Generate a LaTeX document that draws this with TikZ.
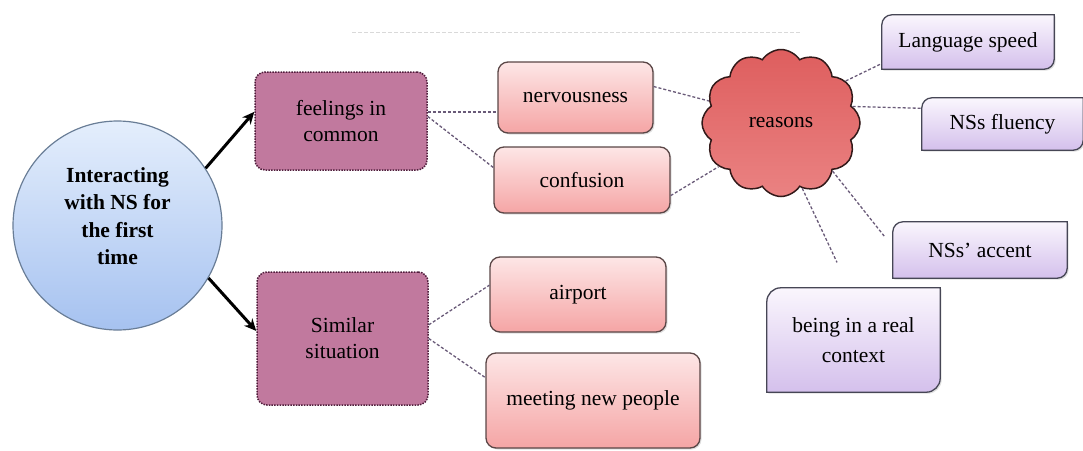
\documentclass[tikz,border=0pt]{standalone}
\usepackage{fontspec}
\setmainfont{Liberation Serif}
\usetikzlibrary{shapes.symbols,arrows.meta,shadows,backgrounds}
\definecolor{mauve}{RGB}{193,121,158}
\definecolor{mauveline}{RGB}{80,30,60}
\definecolor{pinktop}{RGB}{253,230,230}
\definecolor{pinkbot}{RGB}{245,165,165}
\definecolor{pinkline}{RGB}{90,70,70}
\definecolor{cloudfill}{RGB}{222,94,94}
\definecolor{cloudlight}{RGB}{234,130,130}
\definecolor{cloudline}{RGB}{50,25,25}
\definecolor{lavtop}{RGB}{250,246,253}
\definecolor{lavbot}{RGB}{212,192,236}
\definecolor{lavline}{RGB}{70,70,85}
\definecolor{bluetop}{RGB}{228,238,252}
\definecolor{bluebot}{RGB}{166,194,240}
\definecolor{blueline}{RGB}{105,125,150}
\definecolor{connc}{RGB}{105,90,120}
\begin{document}
\begin{tikzpicture}[x=1pt,y=-1pt,
  txt/.style={font=\fontsize{21.5}{26}\selectfont, align=center, inner sep=0pt, text=black},
  mauvebox/.style={txt, draw=mauveline, line width=1.5pt, dash pattern=on 1.5pt off 1.2pt, fill=mauve, rounded corners=10pt},
  pinkbox/.style={txt, draw=pinkline, line width=1.3pt, top color=pinktop, bottom color=pinkbot, rounded corners=10pt,
    drop shadow={opacity=0.25, shadow xshift=1.5pt, shadow yshift=-1.5pt}},
  lavshape/.style={draw=lavline, line width=1.3pt, top color=lavtop, bottom color=lavbot,
    drop shadow={opacity=0.25, shadow xshift=1.5pt, shadow yshift=-1.5pt}},
  conn/.style={draw=connc, line width=1.3pt, dash pattern=on 3pt off 2pt},
  arr/.style={draw=black, line width=3pt, -{Stealth[length=12pt,width=11pt]}}
]
\useasboundingbox (0,0) rectangle (1083,450);

% faint line at top
\coordinate (tl) at (352,32);
\coordinate (tr) at (800,32);
\draw[gray!30, line width=0.8pt, dash pattern=on 4pt off 2pt] (tl) -- (tr);

% central circle
\node[circle, minimum size=209pt, inner sep=0pt, draw=blueline, line width=1.2pt, top color=bluetop, bottom color=bluebot] (circ) at (117.5,225.5) {};
\node[txt, font=\fontsize{21.5}{27.3}\selectfont\bfseries] (circtext) at (117.5,216) {Interacting\\with NS for\\the first\\time};

% mauve boxes
\node[mauvebox, minimum width=172pt, minimum height=98pt] (feel) at (341,121) {feelings in\\common};
\node[mauvebox, minimum width=171pt, minimum height=133pt] (sim) at (342.5,338.5) {Similar\\situation};

% pink boxes
\node[pinkbox, minimum width=155pt, minimum height=71pt] (nerv) at (575.5,97.5) {nervousness};
\node[pinkbox, minimum width=176pt, minimum height=66pt] (conf) at (582,180) {confusion};
\node[pinkbox, minimum width=176pt, minimum height=75pt] (air) at (578,294.5) {airport};
\node[pinkbox, minimum width=214pt, minimum height=95pt] (meet) at (593,400.5) {meeting new people};

% cloud
\node[txt, cloud, cloud puffs=12, cloud puff arc=115, cloud ignores aspect, minimum width=158pt, minimum height=147pt,
  draw=cloudline, line width=1.5pt, top color=cloudfill, bottom color=cloudlight] (reason) at (781,123) {reasons};

% lavender boxes (text nodes; shapes drawn on background)
\node[txt, minimum width=172pt, minimum height=54pt] (lang) at (968,42) {Language speed};
\node[txt, minimum width=161pt, minimum height=52pt] (flu) at (1002.5,124) {NSs fluency};
\node[txt, minimum width=174pt, minimum height=56pt] (acc) at (980,250) {NSs’ accent};
\node[txt, font=\fontsize{21.5}{30}\selectfont, minimum width=173pt, minimum height=104pt] (ctx) at (853.5,340) {being in a real\\context};

\begin{pgfonlayer}{background}
\foreach \n/\r in {lang/10, flu/10, acc/10, ctx/14} {
  \path[lavshape] (\n.south west) -- ([yshift=-\r pt]\n.north west)
    arc[start angle=180, end angle=90, radius=\r pt] -- (\n.north east)
    -- ([yshift=\r pt]\n.south east)
    arc[start angle=0, end angle=-90, radius=\r pt] -- cycle;
}
\end{pgfonlayer}

% arrows
\draw[arr] (circ.33) -- (feel.174);
\draw[arr] (circ.-30) -- (sim.175);

% dashed connectors
\draw[conn] (feel.6) -- (feel.6 -| nerv.west);
\draw[conn] (feel.3) -- (conf.172);
\draw[conn] (sim.9) -- (air.174);
\draw[conn] (sim.east) -- (meet.168);
\draw[conn] (nerv.8) -- (reason.163);
\draw[conn] (conf.-10) -- (reason.215);
\draw[conn] (reason.33) -- (lang.194);
\draw[conn] (reason.13) -- (flu.169);
\draw[conn, shorten >=12pt] (reason.-43) -- (acc.178);
\draw[conn, shorten >=28pt] (reason.-72) -- (ctx.95);
\end{tikzpicture}
\end{document}
